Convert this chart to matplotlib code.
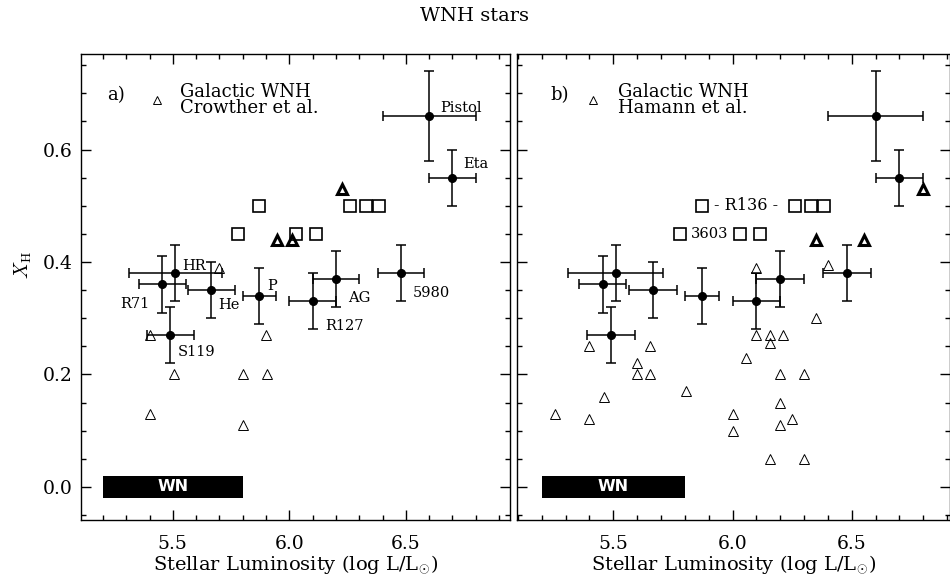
import matplotlib
matplotlib.use("Agg")
import matplotlib.pyplot as plt
from matplotlib.ticker import MultipleLocator, FormatStrFormatter

plt.rcParams.update({
    "font.family": ["DejaVu Serif"],
    "mathtext.fontset": "cm",
    "axes.linewidth": 1.0,
})

# Stars with measured hydrogen fraction and error bars
star_names = ["HR", "R71", "He", "P", "R127", "AG", "5980", "S119", "Pistol", "Eta"]
star_logL = [5.51, 5.455, 5.665, 5.872, 6.10, 6.20, 6.48, 5.49, 6.60, 6.70]
star_xh = [0.38, 0.36, 0.35, 0.34, 0.33, 0.37, 0.38, 0.27, 0.66, 0.55]
star_dlogL = [0.20, 0.10, 0.10, 0.07, 0.10, 0.10, 0.10, 0.10, 0.20, 0.10]
star_dxh = [0.05, 0.05, 0.05, 0.05, 0.05, 0.05, 0.05, 0.05, 0.08, 0.05]

# Cluster WNH stars (R136, NGC 3603)
cluster_logL = [5.78, 6.03, 6.115, 5.87, 6.26, 6.33, 6.385]
cluster_xh = [0.45, 0.45, 0.45, 0.50, 0.50, 0.50, 0.50]

# Other WNH stars (heavy triangles)
bold_logL_a = [5.945, 6.01, 6.225]
bold_xh_a = [0.44, 0.44, 0.53]
bold_logL_b = [6.35, 6.55, 6.80]
bold_xh_b = [0.44, 0.44, 0.53]

# Galactic WNH, Crowther et al.
crowther_logL = [5.70, 5.40, 5.90, 5.505, 5.80, 5.905, 5.40, 5.80]
crowther_xh = [0.39, 0.27, 0.27, 0.20, 0.20, 0.20, 0.13, 0.11]

# Galactic WNH, Hamann et al.
hamann_logL = [6.10, 6.40, 6.35, 6.10, 6.155, 6.21, 6.155, 5.40, 5.655, 5.60,
               5.60, 5.655, 6.055, 6.20, 6.30, 5.805, 5.46, 6.20, 5.255, 5.40,
               6.00, 6.00, 6.20, 6.25, 6.155, 6.30]
hamann_xh = [0.39, 0.395, 0.30, 0.27, 0.27, 0.27, 0.255, 0.25, 0.25, 0.22,
             0.20, 0.20, 0.23, 0.20, 0.20, 0.17, 0.16, 0.15, 0.13, 0.12,
             0.13, 0.10, 0.11, 0.12, 0.05, 0.05]

# WN range bar
wn_lo, wn_hi = 5.2, 5.8
wn_halfheight = 0.02

W, H = 950, 584
fig = plt.figure(figsize=(W / 100, H / 100), dpi=100)


def px_rect(l, t, r, b):
    return [l / W, 1 - b / H, (r - l) / W, (b - t) / H]


axL = fig.add_axes(px_rect(81, 54, 510, 520))
axR = fig.add_axes(px_rect(517, 54, 950, 520))
axL.set_xlim(5.106, 6.947)
axR.set_xlim(5.096, 6.912)

label_fs = 10.5
legend_fs = 13
for ax in (axL, axR):
    ax.set_ylim(-0.059, 0.770)
    ax.xaxis.set_major_locator(MultipleLocator(0.5))
    ax.xaxis.set_minor_locator(MultipleLocator(0.1))
    ax.yaxis.set_major_locator(MultipleLocator(0.2))
    ax.yaxis.set_minor_locator(MultipleLocator(0.05))
    ax.xaxis.set_major_formatter(FormatStrFormatter("%.1f"))
    ax.yaxis.set_major_formatter(FormatStrFormatter("%.1f"))
    ax.tick_params(which="both", direction="in", top=True, right=True, width=1.0)
    ax.tick_params(which="major", length=7)
    ax.tick_params(which="minor", length=3.5)
    ax.tick_params(axis="x", which="major", pad=10.5, labelsize=13.5)
    ax.tick_params(axis="y", which="major", pad=6, labelsize=13.5)
    ax.set_xlabel(r"Stellar Luminosity (log L/L$_{\odot}$)", fontsize=14,
                  labelpad=1)

    # error-bar stars
    ax.errorbar(star_logL, star_xh, xerr=star_dlogL, yerr=star_dxh, fmt="o",
                color="black", ms=5.5, elinewidth=1.1, capsize=3.6, capthick=1.1,
                zorder=4)
    # cluster stars
    ax.plot(cluster_logL, cluster_xh, ls="none", marker="s", ms=8.3, mfc="none",
            mec="black", mew=1.2, zorder=3)
    # WN bar
    ax.barh(0.0, wn_hi - wn_lo, left=wn_lo, height=2 * wn_halfheight,
            color="black", zorder=2)
    ax.text((wn_lo + wn_hi) / 2, 0.0, "WN", color="white", fontsize=11.5,
            fontweight="bold", family="DejaVu Sans", ha="center", va="center",
            zorder=5)

axR.tick_params(axis="y", labelleft=False)

# panel a
axL.plot(crowther_logL, crowther_xh, ls="none", marker="^", ms=7.5, mfc="none",
         mec="black", mew=0.7)
axL.plot(bold_logL_a, bold_xh_a, ls="none", marker="^", ms=7.5, mfc="none",
         mec="black", mew=2.2)
axL.plot([5.432], [0.688], ls="none", marker="^", ms=5.5, mfc="none",
         mec="black", mew=0.7)
axL.text(5.257, 0.697, "a)", fontsize=legend_fs, ha="center", va="center")
axL.text(5.53, 0.688, "Galactic WNH\nCrowther et al.", fontsize=legend_fs,
         ha="left", va="center", linespacing=0.82)

star_labels = {
    "HR": (5.54, 0.393, "left"),
    "R71": (5.40, 0.325, "right"),
    "He": (5.695, 0.324, "left"),
    "P": (5.905, 0.357, "left"),
    "AG": (6.253, 0.336, "left"),
    "5980": (6.53, 0.345, "left"),
    "R127": (6.154, 0.286, "left"),
    "S119": (5.523, 0.240, "left"),
    "Pistol": (6.647, 0.674, "left"),
    "Eta": (6.746, 0.574, "left"),
}
for name, (lx, ly, ha) in star_labels.items():
    axL.text(lx, ly, name, fontsize=label_fs, ha=ha, va="center")

# panel b
axR.plot(hamann_logL, hamann_xh, ls="none", marker="^", ms=7.5, mfc="none",
         mec="black", mew=0.7)
axR.plot(bold_logL_b, bold_xh_b, ls="none", marker="^", ms=7.5, mfc="none",
         mec="black", mew=2.2)
axR.plot([5.416], [0.688], ls="none", marker="^", ms=5.5, mfc="none",
         mec="black", mew=0.7)
axR.text(5.276, 0.697, "b)", fontsize=legend_fs, ha="center", va="center")
axR.text(5.521, 0.688, "Galactic WNH\nHamann et al.", fontsize=legend_fs,
         ha="left", va="center", linespacing=0.82)
axR.text(6.057, 0.50, "- R136 -", fontsize=11.5, ha="center", va="center")
axR.text(5.902, 0.45, "3603", fontsize=10.5, ha="center", va="center")

fig.text(23 / W, 1 - 265 / H, r"$X_{\rm H}$", rotation=90, fontsize=14,
         ha="center", va="center")
fig.text(474 / W, 1 - 16 / H, "WNH stars", fontsize=14, ha="center",
         va="center")

fig.savefig("out.png", dpi=100)
